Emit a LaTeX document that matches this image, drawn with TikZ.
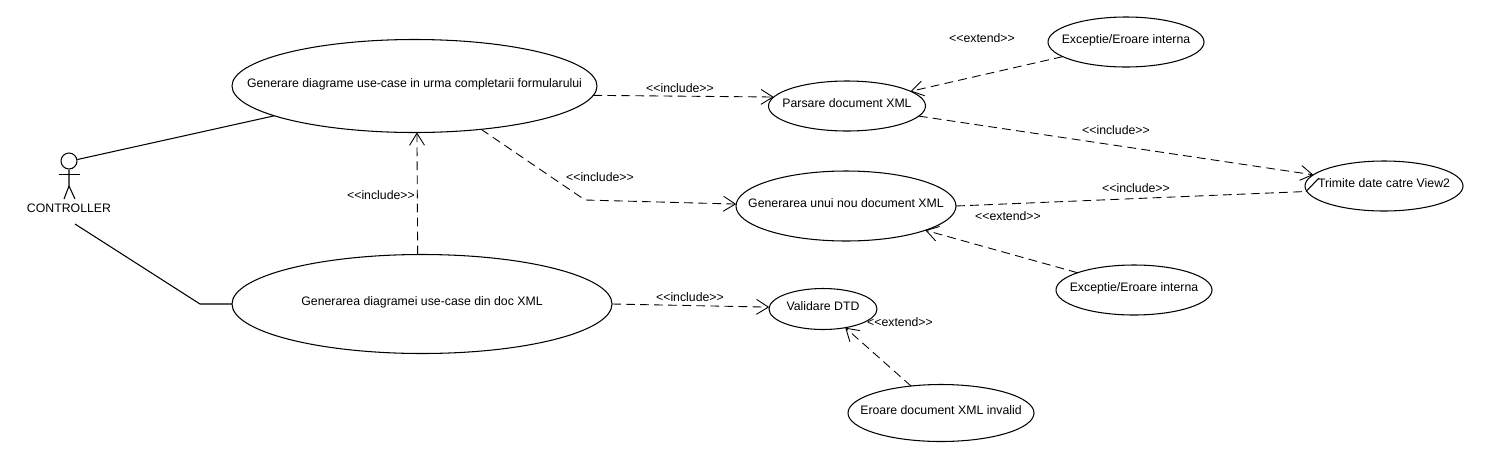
\documentclass[tikz,border=0pt]{standalone}
\usepackage{fontspec}
\setmainfont{Liberation Sans}
\usetikzlibrary{arrows.meta,shapes.geometric}
\tikzstyle{usecase}=[ellipse,draw,line width=.6pt,inner sep=0,outer sep=0,text height=1.2pt,text depth=0pt]
\tikzstyle{every node}=[font=\fontsize{7}{8}\selectfont]
\tikzstyle{assoc}=[line width=.6pt]
\tikzstyle{dep}=[line width=.5pt,dash pattern=on 5pt off 3pt,-{Straight Barb[length=6.8pt,width=8.5pt]}]
\newcommand{\ucnode}[5]{\node[usecase, minimum width=#3*.02cm, minimum height=#4*.02cm] (#1) at (#2) {\makebox[0pt]{#5}};}
\newcommand{\deplabel}[3]{\node (#1) at (#2) {<{}<#3>{}>};}
\begin{document}
\begin{tikzpicture}[x=.02cm,y=-.02cm]
\useasboundingbox (0,0) rectangle (1488,474);

\ucnode{gen}{414.5,86}{365}{93}{Generare diagrame use-case in urma completarii formularului}
\ucnode{gendoc}{422,304}{380}{99}{Generarea diagramei use-case din doc XML}
\ucnode{parse}{847,106}{157}{50}{Parsare document XML}
\ucnode{newdoc}{846,206}{220}{70}{Generarea unui nou document XML}
\ucnode{dtd}{823,309}{108}{41}{Validare DTD}
\ucnode{errtop}{1126,42}{156}{50}{Exceptie/Eroare interna}
\ucnode{errmid}{1134,290}{156}{50}{Exceptie/Eroare interna}
\ucnode{errxml}{941,413}{186}{57}{Eroare document XML invalid}
\ucnode{view}{1384,186}{158}{50}{Trimite date catre View2}

% actor
\node[circle,draw,line width=.6pt,inner sep=0,minimum size=16*.02cm] (head) at (69,161) {};
\coordinate (neck) at (69,186);
\coordinate (lfoot) at (64,199);
\coordinate (rfoot) at (75,199);
\coordinate (larm) at (59,174.5);
\coordinate (rarm) at (80,174.5);
\draw[assoc] (head.south) -- (neck) -- (lfoot);
\draw[assoc] (neck) -- (rfoot);
\draw[assoc] (larm) -- (rarm);
\node (actor) at (69,208.5) {CONTROLLER};

\coordinate (actorlow) at (75,224);
\coordinate (bend) at (200,304);
\coordinate (bendb) at (585,200);
\coordinate (kink) at (1306,191.5);
\coordinate (kinktop) at (1319,178);

\draw[assoc] (head.10) -- (gen.192.5);
\draw[assoc] (actorlow) -- (bend) -- (gendoc.west);

\draw[dep] (gen.-3.9) -- (parse.173.9);
\draw[dep] (gendoc.95.7) -- (gen.-87);
\draw[dep] (gen.-33.9) -- (bendb) -- (newdoc.179);
\draw[dep] (gendoc.-0.5) -- (dtd.178);
\draw[dep] (parse.-8.6) -- (view.171.5);
\draw[dep] (errtop.193.2) -- (parse.13);
\draw[dep] (errmid.163) -- (newdoc.-17.4);
\draw[dep] (errxml.138) -- (dtd.-40.8);
\draw[dep,-] (newdoc.east) -- (kink);
\draw[assoc] (kink) -- (kinktop);

\deplabel{incgen}{680,88}{include}
\deplabel{incdoc}{381,195}{include}
\deplabel{incnew}{600,177}{include}
\deplabel{incdtd}{690,297}{include}
\deplabel{incview}{1116,130}{include}
\deplabel{incsend}{1136,188}{include}
\deplabel{exttop}{982,38}{extend}
\deplabel{extmid}{1008,216}{extend}
\deplabel{extdtd}{900,322}{extend}
\end{tikzpicture}
\end{document}
